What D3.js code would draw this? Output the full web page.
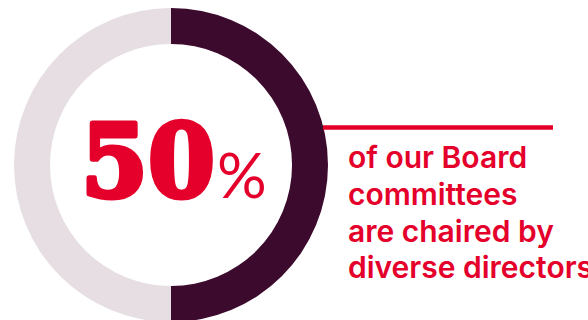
<!DOCTYPE html>
<html>
<head>
<meta charset="utf-8">
<script src="https://cdn.jsdelivr.net/npm/d3@7"></script>
<style>
  html, body { margin: 0; padding: 0; background: #ffffff; overflow: hidden; }
  svg { display: block; }
</style>
</head>
<body>
<svg id="chart" width="588" height="320"></svg>
<script>
// Share of Board committees by chair
const categories = ["Chaired by diverse directors", "Other chairs"];
const values = [50, 50];
const colors = ["#3c0a2d", "#e6dee3"];
const headline = "50";
const headlineUnit = "%";
const captionLines = ["of our Board", "committees", "are chaired by", "diverse directors"];

const svg = d3.select("#chart");
const cx = 171, cy = 165;
const outerR = 157, innerR = 121;

const pie = d3.pie().sort(null).value(d => d.value).startAngle(0).endAngle(2 * Math.PI);
const arc = d3.arc().innerRadius(innerR).outerRadius(outerR);
const data = categories.map((c, i) => ({ category: c, value: values[i] }));

const ring = svg.append("g").attr("transform", `translate(${cx},${cy})`);
ring.selectAll("path")
  .data(pie(data))
  .join("path")
  .attr("d", arc)
  .attr("fill", (d, i) => colors[i]);

// Headline figure in the centre of the ring
const red = "#e4002b";
const num = ring.append("text")
  .attr("fill", red)
  .attr("stroke", red)
  .attr("stroke-width", 5)
  .attr("stroke-linejoin", "round")
  .attr("font-family", "'DejaVu Serif', serif")
  .attr("font-weight", 700)
  .attr("font-size", 101)
  .text(headline);
// fit the heavy serif digits to the figure's width
const nb = num.node().getBBox();
const sx = 134 / nb.width;
num.attr("transform", `translate(-90,31.5) scale(${sx},1)`);

ring.append("text")
  .attr("x", 46)
  .attr("y", 33)
  .attr("fill", red)
  .attr("font-family", "Lato, sans-serif")
  .attr("font-weight", 400)
  .attr("font-size", 62)
  .text(headlineUnit);

// Rule leading to the caption
svg.append("line")
  .attr("x1", cx + outerR - 5)
  .attr("x2", 553)
  .attr("y1", 127.5)
  .attr("y2", 127.5)
  .attr("stroke", red)
  .attr("stroke-width", 4.5);

// Caption
svg.append("g")
  .selectAll("text")
  .data(captionLines)
  .join("text")
  .attr("x", 348)
  .attr("y", (d, i) => 168 + i * 36.8)
  .attr("fill", red)
  .attr("font-family", "Inter, sans-serif")
  .attr("font-weight", 600)
  .attr("font-size", 30)
  .text(d => d);
</script>
</body>
</html>
